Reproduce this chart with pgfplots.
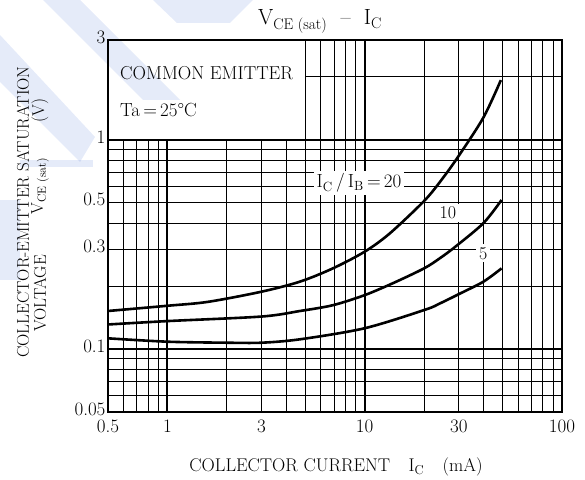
\documentclass[border=0pt]{standalone}
\usepackage{pgfplots}
\pgfplotsset{compat=1.18}
\definecolor{wm}{RGB}{229,235,249}
\newcommand\fs[1]{\fontsize{#1}{#1}\selectfont}
\begin{document}
\begin{tikzpicture}[x=1pt,y=1pt]
\useasboundingbox (-108,-67) rectangle (477,412);
\begin{axis}[
  at={(0,0)}, anchor=south west, scale only axis,
  width=454pt, height=372pt,
  xmode=log, ymode=log,
  xmin=0.5, xmax=100, ymin=0.05, ymax=3,
  xtick={0.5,1,3,10,30,100}, xticklabels={0.5,1,3,10,30,100},
  ytick={0.05,0.1,0.3,0.5,1,3}, yticklabels={0.05,0.1,0.3,0.5,1,3},
  minor xtick={0.6,0.7,0.8,0.9,2,4,5,6,7,8,9,20,40,50,60,70,80,90},
  minor ytick={0.06,0.07,0.08,0.09,0.2,0.4,0.6,0.7,0.8,0.9,2},
  grid=both,
  major grid style={black, line width=0.9pt},
  minor grid style={black, line width=0.9pt},
  extra x ticks={1,10}, extra x tick labels={},
  extra y ticks={0.1,1}, extra y tick labels={},
  extra tick style={major grid style={black, line width=1.8pt}},
  major tick length=0pt, minor tick length=0pt,
  axis line style={line width=2.2pt},
  tick label style={font=\fs{19}},
  xticklabel style={yshift=-4pt},
  yticklabel style={xshift=1pt, yshift=3pt},
]
\fill[white] (axis cs:0.5,1) rectangle (axis cs:5,3);
\draw[line width=0.9pt] (axis cs:5,1) -- (axis cs:5,3);
\draw[line width=1.8pt] (axis cs:0.5,1) -- (axis cs:5,1);
\draw[line width=2.2pt] (rel axis cs:0,0) rectangle (rel axis cs:1,1);

% I_C/I_B = 20
\addplot[line width=2.6pt, smooth, tension=0.5] coordinates {
  (0.5,0.152) (1,0.161) (1.6,0.168) (3,0.188) (4.7,0.21) (6.9,0.243)
  (10,0.292) (13.4,0.357) (20.2,0.515) (25,0.66) (30,0.84) (40,1.28) (49,1.93)};
% I_C/I_B = 10
\addplot[line width=2.6pt, smooth, tension=0.5] coordinates {
  (0.5,0.131) (1,0.136) (3,0.143) (4.7,0.152) (6.9,0.162) (10,0.181)
  (14,0.207) (20,0.243) (24.1,0.272) (29,0.31) (40,0.40) (49.4,0.516)};
% I_C/I_B = 5
\addplot[line width=2.6pt, smooth, tension=0.5] coordinates {
  (0.5,0.1125) (1,0.1084) (2,0.1072) (3,0.1072) (4.7,0.1113) (10,0.1257)
  (20.2,0.154) (24,0.165) (30,0.183) (40,0.21) (49.4,0.243)};

\node[fill=white, inner sep=2.5pt, font=\fs{19}] at (axis cs:9.36,0.622)
  {I\textsubscript{C}\,/\,I\textsubscript{B}\,=\,20};
\node[fill=white, inner sep=3pt, font=\fs{18}] at (axis cs:26.4,0.446) {10};
\node[fill=white, inner sep=3pt, font=\fs{18}] at (axis cs:39.9,0.287) {5};
\node[anchor=west, inner sep=0pt, font=\fs{18.7}] at (axis cs:0.575,2.08) {COMMON EMITTER};
\node[anchor=west, inner sep=0pt, font=\fs{19}] at (axis cs:0.575,1.39) {Ta\,=\,25\textdegree C};
\end{axis}

% title and axis labels
\node[anchor=base, inner sep=0pt, font=\fs{22}] at (212,387)
  {V\textsubscript{CE (sat)}\ \ --\ \ I\textsubscript{C}};
\node[anchor=base, inner sep=0pt, font=\fs{18.4}] at (228,-59)
  {COLLECTOR CURRENT\quad I\textsubscript{C}\quad (mA)};
\node[rotate=90, inner sep=0pt, font=\fs{17}] at (-85,200) {COLLECTOR-EMITTER SATURATION};
\node[rotate=90, inner sep=0pt, font=\fs{17}] at (-68,118.5) {VOLTAGE};
\node[rotate=90, inner sep=0pt, font=\fs{17}] at (-68,226) {V\textsubscript{CE (sat)}};
\node[rotate=90, inner sep=0pt, font=\fs{17}] at (-68,301.5) {(V)};

% faint watermark
\begin{scope}[blend mode=multiply]
  \fill[wm] (-65,412) -- (-28,412) -- (72,312) -- (35,312) -- cycle;
  \fill[wm] (-108,377) -- (-108,330) -- (-28,250) -- (-13,275) -- cycle;
  \fill[wm] (45,412) -- (145,412) -- (122,389) -- (69,389) -- cycle;
  \fill[wm] (-88,252) rectangle (-15,245);
  \fill[wm] (-108,212) rectangle (-88,132);
\end{scope}
\end{tikzpicture}
\end{document}
